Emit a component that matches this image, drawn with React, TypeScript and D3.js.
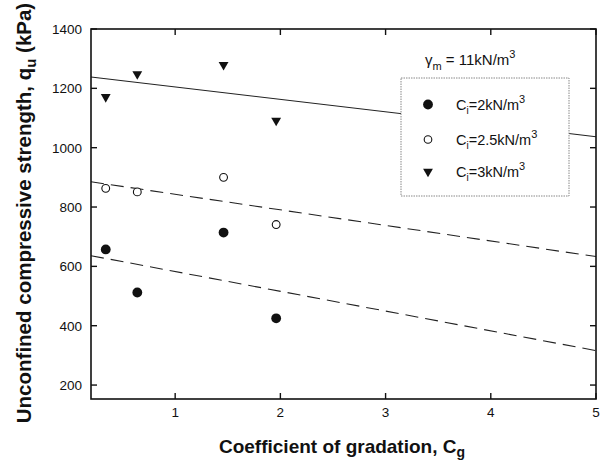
import * as d3 from "d3";

// Coefficient of gradation values for each test
const cg = [0.34, 0.64, 1.46, 1.96];
// Unconfined compressive strength (kPa) per cement content series
const qu2 = [657, 512, 714, 425];
const qu25 = [863, 851, 900, 741];
const qu3 = [1171, 1248, 1279, 1091];

// fitted trend lines, read at the ends of the x range
const fitX = [0.2, 5];
const fit2 = [636, 316];
const fit25 = [885, 633];
const fit3 = [1238, 1037];

const xTicks = [1, 2, 3, 4, 5];
const yTicks = [200, 400, 600, 800, 1000, 1200, 1400];

const W = 606;
const H = 463;
const margin = { top: 29, right: 10, bottom: 64, left: 91 };
const FONT = "Liberation Sans, Arial, Helvetica, sans-serif";

function Label({ x, y, value }: { x: number; y: number; value: string }) {
  return (
    <text x={x} y={y} fontFamily={FONT} fontSize={14.5} fill="#111">
      C<tspan dy={4} fontSize={10}>i</tspan>
      <tspan dy={-4}>={value}kN/m</tspan>
      <tspan dy={-7} fontSize={11}>3</tspan>
    </text>
  );
}

export default function App() {
  const innerW = W - margin.left - margin.right;
  const innerH = H - margin.top - margin.bottom;

  const x = d3.scaleLinear().domain([0.2, 5]).range([0, innerW]);
  const y = d3.scaleLinear().domain([153, 1400]).range([innerH, 0]);

  const line = d3
    .line<number>()
    .x((_, i) => x(fitX[i]))
    .y((d) => y(d));

  const tri = d3.symbol().type(d3.symbolTriangle).size(42)();

  const tick = 6;

  return (
    <svg
      width={W}
      height={H}
      style={{ position: "absolute", left: 0, top: 0, background: "#fff" }}
    >
      <g transform={`translate(${margin.left},${margin.top})`}>
        {/* fit lines */}
        <path d={line(fit3) ?? ""} fill="none" stroke="#222" strokeWidth={1.1} />
        <path d={line(fit25) ?? ""} fill="none" stroke="#222" strokeWidth={1.1} strokeDasharray="13,7" />
        <path d={line(fit2) ?? ""} fill="none" stroke="#222" strokeWidth={1.1} strokeDasharray="13,7" />

        {/* legend box */}
        <rect x={310} y={49} width={168} height={118} fill="#fff" stroke="#888" strokeWidth={1} strokeDasharray="1.5,1" />
        <circle cx={337} cy={75.5} r={4.9} fill="#111" />
        <Label x={365} y={81} value="2" />
        <circle cx={337} cy={110.5} r={3.8} fill="#fff" stroke="#111" strokeWidth={1.1} />
        <Label x={365} y={116} value="2.5" />
        <path d={tri ?? ""} transform={`translate(337,142.5) rotate(180)`} fill="#111" />
        <Label x={365} y={148} value="3" />

        {/* gamma label */}
        <text x={334} y={36} fontFamily={FONT} fontSize={15} fill="#111">
          γ<tspan dy={5} fontSize={11}>m</tspan>
          <tspan dy={-5}> = 11kN/m</tspan>
          <tspan dy={-7} fontSize={11}>3</tspan>
        </text>

        {/* points */}
        {cg.map((c, i) => (
          <circle key={`a${i}`} cx={x(c)} cy={y(qu2[i])} r={4.9} fill="#111" />
        ))}
        {cg.map((c, i) => (
          <circle key={`b${i}`} cx={x(c)} cy={y(qu25[i])} r={3.9} fill="#fff" stroke="#111" strokeWidth={1.1} />
        ))}
        {cg.map((c, i) => (
          <path key={`c${i}`} d={tri ?? ""} transform={`translate(${x(c)},${y(qu3[i])}) rotate(180)`} fill="#111" />
        ))}

        {/* frame */}
        <rect x={0} y={0} width={innerW} height={innerH} fill="none" stroke="#111" strokeWidth={1.6} />

        {/* x ticks */}
        {xTicks.map((t) => (
          <g key={`x${t}`}>
            <line x1={x(t)} x2={x(t)} y1={innerH} y2={innerH - tick} stroke="#111" strokeWidth={1.4} />
            <line x1={x(t)} x2={x(t)} y1={0} y2={tick} stroke="#111" strokeWidth={1.4} />
            <text x={x(t)} y={innerH + 18} textAnchor="middle" fontFamily={FONT} fontSize={13.5} fill="#111">
              {t}
            </text>
          </g>
        ))}

        {/* y ticks */}
        {yTicks.map((t) => (
          <g key={`y${t}`}>
            <line x1={0} x2={tick} y1={y(t)} y2={y(t)} stroke="#111" strokeWidth={1.4} />
            <line x1={innerW} x2={innerW - tick} y1={y(t)} y2={y(t)} stroke="#111" strokeWidth={1.4} />
            <text x={-9} y={y(t) + 5} textAnchor="end" fontFamily={FONT} fontSize={13.5} fill="#111">
              {t}
            </text>
          </g>
        ))}

        {/* axis titles */}
        <text
          x={342 - margin.left}
          y={innerH + 54}
          textAnchor="middle"
          fontFamily={FONT}
          fontSize={19}
          fontWeight="bold"
          fill="#111"
        >
          Coefficient of gradation, C<tspan dy={4} fontSize={14}>g</tspan>
        </text>
        <text
          transform={`translate(${31 - margin.left},${213 - margin.top}) rotate(-90)`}
          textAnchor="middle"
          fontFamily={FONT}
          fontSize={20.5}
          fontWeight="bold"
          fill="#111"
        >
          Unconfined compressive strength, q<tspan dy={5} fontSize={15}>u</tspan>
          <tspan dy={-5}> (kPa)</tspan>
        </text>
      </g>
    </svg>
  );
}
